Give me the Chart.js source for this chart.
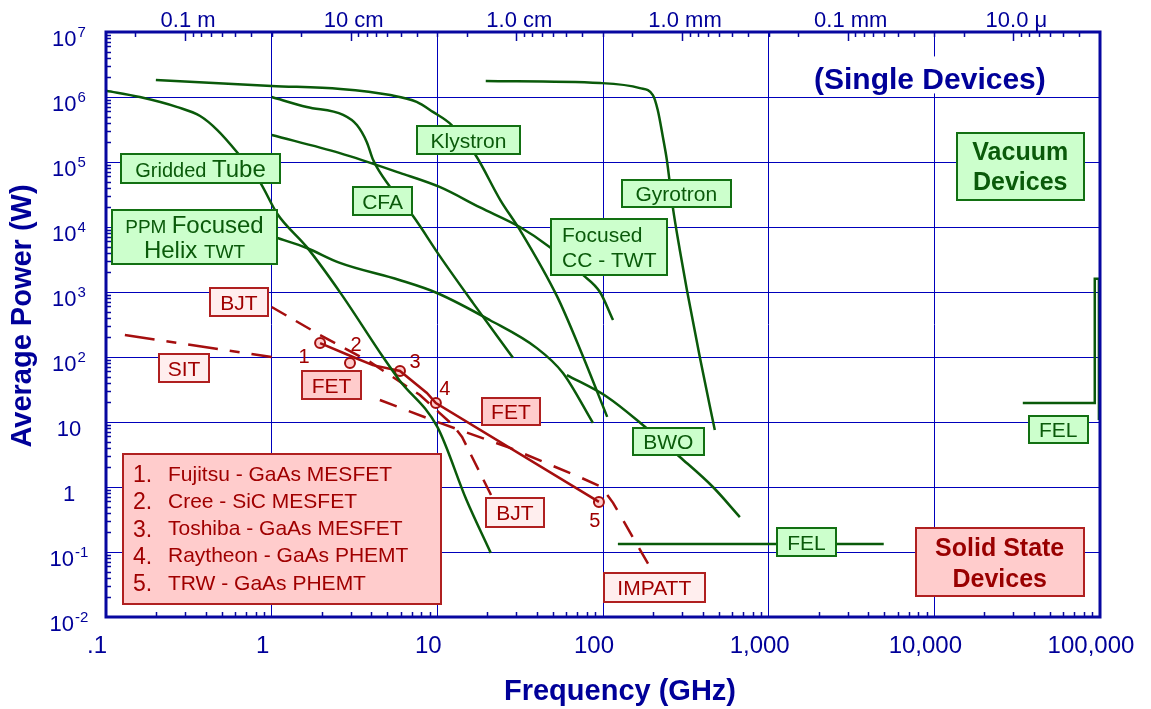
<!DOCTYPE html>
<html>
<head>
<meta charset="utf-8">
<title>Average Power vs Frequency</title>
<script src="https://cdn.jsdelivr.net/npm/chart.js@4.4.1/dist/chart.umd.min.js"></script>
<style>
    html, body { margin: 0; padding: 0; background: #fff; }
    #wrap { width: 1151px; height: 709px; position: relative; }
</style>
</head>
<body>
<div id="wrap"><canvas id="powerChart"></canvas></div>
<script>
// ===== data: [frequency GHz, average power W] =====
const griddedTube = [[0.1, 1.25e6], [0.16, 1.0e6], [0.27, 7.0e5], [0.37, 5.1e5], [0.47, 3.1e5], [0.62, 1.4e5],
    [0.85, 4.9e4], [1.08, 1.6e4], [1.63, 4.9e3], [2.6, 970], [4.7, 100], [5.9, 44], [10, 8.4], [15, 0.63], [21, 0.097]];
const klystron = [[0.2, 1.83e6], [1.0, 1.48e6], [2.6, 1.33e6], [5.2, 1.07e6], [7.5, 8.4e5], [9.4, 5.9e5], [12.2, 3.7e5],
    [17, 1.28e5], [24, 2.6e4], [31.5, 9.0e3], [53, 840], [73, 128], [106, 12]];
const cfa = [[1.0, 1.0e6], [1.63, 7.0e5], [2.7, 5.3e5], [3.27, 3.7e5], [3.76, 2.0e5], [4.1, 1.07e5], [5.2, 4.1e4],
    [7.1, 1.5e4], [10.4, 3.5e3], [16.4, 680], [28.6, 97]];
const ccTwt = [[1.0, 2.6e5], [2.58, 1.37e5], [5.94, 6.8e4], [10.4, 4.1e4], [18.1, 2.0e4], [31.5, 1.0e4], [47.8, 4.9e3],
    [75.7, 1.83e3], [95.8, 1000], [115, 370]];
const ppmTwt = [[1.08, 6.8e3], [1.63, 4.75e3], [2.58, 2.8e3], [5.9, 1530], [9.95, 966], [20.7, 371], [39.9, 137],
    [57.3, 56.8], [86.9, 9.7]];
const gyrotron = [[19.6, 1.76e6], [96, 1.64e6], [167, 1.37e6], [200, 1.07e6], [214, 6.3e5], [230, 2.4e5], [243, 1.07e5],
    [264, 2.0e4], [291, 4.4e3], [321, 1.07e3], [384, 100], [473, 7.5]];
const bwo = [[60.5, 52.8], [106, 24.3], [174, 9.0], [291, 2.9], [461, 1.0], [670, 0.345]];
const felLow = [[123, 0.133], [4950, 0.133]];
const felHigh = [[34200, 19.6], [93000, 19.6], [93000, 1600], [98500, 1600], [98500, 10.7]];

const sit = [[0.13, 218], [1.0, 100]];
const bjt = [[1.0, 588], [1.96, 218], [3.92, 84], [7.85, 26], [12.4, 9.0], [14.1, 5.9], [21.4, 0.70]];
const impatt = [[4.5, 21.8], [10, 10], [27.4, 4.0], [74.6, 1.37], [98, 1.0], [115, 0.57], [200, 0.049]];
const fetLine = [[1.96, 164], [3.1, 100], [4.08, 75], [5.95, 61], [8.65, 28], [9.8, 19.6], [94.5, 0.59]];
const fetDevices = [[1.96, 164], [2.97, 81], [5.95, 61], [9.8, 19.6], [94.5, 0.59]];
const deviceNames = ['Fujitsu - GaAs MESFET', 'Cree - SiC MESFET', 'Toshiba - GaAs MESFET',
    'Raytheon - GaAs PHEMT', 'TRW - GaAs PHEMT'];

// ---- tick labels ----
const freqTicks = [0.1, 1, 10, 100, 1000, 10000, 100000];
const freqLabels = ['.1', '1', '10', '100', '1,000', '10,000', '100,000'];
const powerTicks = [1e-2, 1e-1, 1, 10, 1e2, 1e3, 1e4, 1e5, 1e6, 1e7];
const powerExps = [-2, -1, 0, 1, 2, 3, 4, 5, 6, 7];
const waveFreqs = [0.3, 3, 30, 300, 3000, 30000];
const waveLabels = ['0.1 m', '10 cm', '1.0 cm', '1.0 mm', '0.1 mm', '10.0 \u03bc'];

// ---- styling ----
const FONT = '"Liberation Sans", Arial, Helvetica, sans-serif';
const NAVY = '#000099';
const GRID = '#0000bb';
const FRAME = '#0707a0';
const GREEN = '#0a5a0a';
const RED = '#a50e0e';

const boxStyles = {
    tube:  { fill: '#ccffcc', edge: '#127012', text: '#0a5a0a' },
    solid: { fill: '#ffcccc', edge: '#b02020', text: '#990000' },
    pink:  { fill: '#ffcccc', edge: '#b02020', text: '#a00000' },
    light: { fill: '#ffeeee', edge: '#b02020', text: '#a00000' },
};

// text boxes, anchored at (f, p) centre
const notes = [
    { f: 0.372, p: 7.94e4, w: 159, h: 29, kind: 'tube', lines: [[['Gridded ', 20], ['Tube', 24]]] },
    { f: 0.342, p: 7.0e3, w: 165, h: 54, kind: 'tube', lh: 25, lines: [[['PPM ', 19], ['Focused', 24]], [['Helix ', 24], ['TWT', 19]]] },
    { f: 15.4, p: 2.18e5, w: 103, h: 28, kind: 'tube', lines: [[['Klystron', 21]]] },
    { f: 4.67, p: 2.51e4, w: 59, h: 28, kind: 'tube', lines: [[['CFA', 21]]] },
    { f: 108.6, p: 4.92e3, w: 116, h: 56, kind: 'tube', lh: 25, align: 'left', lines: [[['Focused', 21]], [['CC - TWT', 21]]] },
    { f: 277, p: 3.27e4, w: 109, h: 27, kind: 'tube', lines: [[['Gyrotron', 21]]] },
    { f: 33000, p: 8.53e4, w: 127, h: 67, kind: 'tube', bold: true, lh: 30, lines: [[['Vacuum', 25]], [['Devices', 25]]] },
    { f: 248, p: 5.0, w: 71, h: 27, kind: 'tube', lines: [[['BWO', 21]]] },
    { f: 1690, p: 0.1426, w: 59, h: 28, kind: 'tube', lines: [[['FEL', 21]]] },
    { f: 56000, p: 7.67, w: 59, h: 27, kind: 'tube', lines: [[['FEL', 21]]] },
    { f: 24800, p: 0.070, w: 168, h: 68, kind: 'solid', bold: true, lh: 31, lines: [[['Solid State', 25]], [['Devices', 25]]] },
    { f: 0.635, p: 702, w: 58, h: 28, kind: 'light', lines: [[['BJT', 21]]] },
    { f: 0.296, p: 67.8, w: 50, h: 28, kind: 'light', lines: [[['SIT', 21]]] },
    { f: 2.30, p: 37.1, w: 59, h: 28, kind: 'pink', lines: [[['FET', 21]]] },
    { f: 27.8, p: 14.5, w: 58, h: 27, kind: 'pink', lines: [[['FET', 21]]] },
    { f: 29.4, p: 0.405, w: 58, h: 29, kind: 'light', lines: [[['BJT', 21]]] },
    { f: 204, p: 0.0284, w: 101, h: 29, kind: 'light', lines: [[['IMPATT', 21]]] },
];
const legendBox = { f: 1.154, p: 0.226, w: 318, h: 150 };
const header = { f: 9400, p: 1.93e6, text: '(Single Devices)' };
const pointLabelOffsets = [[-16, 14], [6, -17], [15, -8], [9, -14], [-4, 20]];

// ---- helpers ----
const xy = arr => arr.map(([x, y]) => ({ x, y }));

function greenLine(data, extra) {
    return Object.assign({ data: xy(data), showLine: true, borderColor: GREEN, borderWidth: 2.5,
        pointRadius: 0, fill: false, cubicInterpolationMode: 'monotone' }, extra);
}
function redLine(data, extra) {
    return Object.assign({ data: xy(data), showLine: true, borderColor: RED, borderWidth: 2.5,
        pointRadius: 0, fill: false, tension: 0, borderCapStyle: 'butt' }, extra);
}

function drawNote(ctx, cx, cy, n) {
    const st = boxStyles[n.kind];
    const left = Math.round(cx - n.w / 2), top = Math.round(cy - n.h / 2);
    ctx.fillStyle = st.fill;
    ctx.fillRect(left, top, n.w, n.h);
    ctx.strokeStyle = st.edge;
    ctx.lineWidth = 2;
    ctx.strokeRect(left, top, n.w, n.h);
    const weight = n.bold ? 'bold ' : '';
    const lh = n.lh || 0;
    ctx.textAlign = 'left';
    ctx.textBaseline = 'alphabetic';
    ctx.fillStyle = st.text;
    n.lines.forEach((segs, i) => {
        const ly = cy + (i - (n.lines.length - 1) / 2) * lh;
        const big = Math.max(...segs.map(s => s[1]));
        const base = ly + big * 0.36;
        let total = 0;
        segs.forEach(s => { ctx.font = weight + s[1] + 'px ' + FONT; total += ctx.measureText(s[0]).width; });
        let sx = n.align === 'left' ? left + 11 : cx - total / 2;
        segs.forEach(s => {
            ctx.font = weight + s[1] + 'px ' + FONT;
            ctx.fillText(s[0], sx, base);
            sx += ctx.measureText(s[0]).width;
        });
    });
}

// ---- decorations plugin ----
const decorations = {
    id: 'decorations',
    afterDatasetsDraw(chart) {
        const { ctx, scales: { x, y } } = chart;
        ctx.save();

        notes.forEach(n => drawNote(ctx, x.getPixelForValue(n.f), y.getPixelForValue(n.p), n));

        // numbers beside the FET points
        ctx.font = '20px ' + FONT;
        ctx.fillStyle = '#a00000';
        ctx.textAlign = 'center';
        ctx.textBaseline = 'middle';
        fetDevices.forEach(([f, p], i) => {
            const [dx, dy] = pointLabelOffsets[i];
            ctx.fillText(String(i + 1), x.getPixelForValue(f) + dx, y.getPixelForValue(p) + dy);
        });

        // device list
        const lx = Math.round(x.getPixelForValue(legendBox.f) - legendBox.w / 2);
        const ly = Math.round(y.getPixelForValue(legendBox.p) - legendBox.h / 2);
        ctx.fillStyle = '#ffcccc';
        ctx.fillRect(lx, ly, legendBox.w, legendBox.h);
        ctx.strokeStyle = '#b02020';
        ctx.lineWidth = 2;
        ctx.strokeRect(lx, ly, legendBox.w, legendBox.h);
        ctx.textAlign = 'left';
        ctx.textBaseline = 'alphabetic';
        ctx.fillStyle = '#a00000';
        deviceNames.forEach((name, i) => {
            const cyl = ly + 19 + i * 27.25;
            ctx.font = '23px ' + FONT;
            ctx.fillText((i + 1) + '.', lx + 10, cyl + 9);
            ctx.font = '21px ' + FONT;
            ctx.fillText(name, lx + 45, cyl + 7.5);
        });

        // header with white backing
        const hx = x.getPixelForValue(header.f), hy = y.getPixelForValue(header.p);
        ctx.font = 'bold 30px ' + FONT;
        const hw = ctx.measureText(header.text).width;
        ctx.fillStyle = '#fff';
        ctx.fillRect(hx - hw / 2 - 3, hy - 22, hw + 6, 37);
        ctx.fillStyle = NAVY;
        ctx.textAlign = 'center';
        ctx.fillText(header.text, hx, hy + 11);

        ctx.restore();
    },
    afterDraw(chart) {
        const { ctx, chartArea: a, scales: { x, y } } = chart;
        ctx.save();

        // frame
        ctx.strokeStyle = FRAME;
        ctx.lineWidth = 3;
        ctx.strokeRect(a.left, a.top, a.right - a.left, a.bottom - a.top);

        // minor ticks, pointing inward
        ctx.lineWidth = 1.5;
        for (let n = -1; n < 5; n++) {
            for (let k = 2; k < 10; k++) {
                const px = Math.round(x.getPixelForValue(k * Math.pow(10, n))) + 0.5;
                ctx.beginPath(); ctx.moveTo(px, a.bottom); ctx.lineTo(px, a.bottom - 5); ctx.stroke();
            }
        }
        for (let n = -2; n < 7; n++) {
            for (let k = 2; k < 10; k++) {
                const py = Math.round(y.getPixelForValue(k * Math.pow(10, n))) + 0.5;
                ctx.beginPath(); ctx.moveTo(a.left, py); ctx.lineTo(a.left + 5, py); ctx.stroke();
            }
        }
        // wavelength ticks along the top
        [0.03].concat(waveFreqs).forEach(f0 => {
            if (f0 >= 0.1) {
                const px = Math.round(x.getPixelForValue(f0)) + 0.5;
                ctx.beginPath(); ctx.moveTo(px, a.top); ctx.lineTo(px, a.top + 9); ctx.stroke();
            }
            for (let k = 2; k < 10; k++) {
                const f = f0 * 10 / k;
                if (f <= 0.1 || f >= 1e5) continue;
                const px = Math.round(x.getPixelForValue(f)) + 0.5;
                ctx.beginPath(); ctx.moveTo(px, a.top); ctx.lineTo(px, a.top + 5); ctx.stroke();
            }
        });

        ctx.fillStyle = NAVY;
        ctx.textBaseline = 'alphabetic';

        // top labels
        ctx.font = '22px ' + FONT;
        ctx.textAlign = 'center';
        waveFreqs.forEach((f, i) => ctx.fillText(waveLabels[i], x.getPixelForValue(f) + 3, 27));

        // bottom labels
        ctx.font = '24px ' + FONT;
        freqTicks.forEach((f, i) => {
            const w = ctx.measureText(freqLabels[i]).width;
            const cx = Math.min(x.getPixelForValue(f) - 9, chart.width - 10 - w / 2);
            ctx.fillText(freqLabels[i], cx, 653);
        });

        // left labels: 10 with superscript exponent
        ctx.textAlign = 'left';
        powerTicks.forEach((v, i) => {
            const py = y.getPixelForValue(v);
            const e = powerExps[i];
            const main = e === 0 ? '1' : '10';
            const sup = (e === 0 || e === 1) ? '' : String(e);
            ctx.font = '22px ' + FONT;
            const w1 = ctx.measureText(main).width;
            ctx.font = '15px ' + FONT;
            const w2 = sup ? ctx.measureText(sup).width + 1 : 0;
            const sx = 69 - (w1 + w2) / 2;
            ctx.font = '22px ' + FONT;
            ctx.fillText(main, sx, py + 14);
            if (sup) {
                ctx.font = '15px ' + FONT;
                ctx.fillText(sup, sx + w1 + 1, py + 5);
            }
        });

        // axis titles
        ctx.font = 'bold 29px ' + FONT;
        ctx.textAlign = 'center';
        ctx.fillText('Frequency (GHz)', 620, 700);
        ctx.translate(31, 316);
        ctx.rotate(-Math.PI / 2);
        ctx.fillText('Average Power (W)', 0, 0);

        ctx.restore();
    }
};

// ---- chart ----
function initPowerChart() {
    const el = document.getElementById('powerChart');
    new Chart(el, {
        type: 'scatter',
        data: {
            datasets: [
                greenLine(griddedTube), greenLine(klystron), greenLine(cfa), greenLine(ccTwt),
                greenLine(ppmTwt), greenLine(gyrotron), greenLine(bwo),
                greenLine(felLow, { cubicInterpolationMode: 'default', tension: 0 }),
                greenLine(felHigh, { cubicInterpolationMode: 'default', tension: 0 }),
                redLine(sit, { borderDash: [30, 12, 10, 12] }),
                redLine(bjt, { borderDash: [17, 11] }),
                redLine(impatt, { borderDash: [18, 13] }),
                redLine(fetLine),
                { data: xy(fetDevices), showLine: false, pointRadius: 5, pointHoverRadius: 5,
                  pointBackgroundColor: '#ffcccc', pointBorderColor: RED, pointBorderWidth: 2 },
            ]
        },
        options: {
            responsive: true,
            maintainAspectRatio: false,
            animation: false,
            events: [],
            layout: { padding: { left: 106, right: 51, top: 32, bottom: 92 } },
            plugins: { legend: { display: false }, tooltip: { enabled: false } },
            scales: {
                x: {
                    type: 'logarithmic', min: 0.1, max: 1e5,
                    ticks: { display: false },
                    grid: { color: GRID, lineWidth: 1, drawTicks: false },
                    border: { display: false },
                    afterBuildTicks: s => { s.ticks = freqTicks.map(v => ({ value: v })); }
                },
                y: {
                    type: 'logarithmic', min: 1e-2, max: 1e7,
                    ticks: { display: false },
                    grid: { color: GRID, lineWidth: 1, drawTicks: false },
                    border: { display: false },
                    afterBuildTicks: s => { s.ticks = powerTicks.map(v => ({ value: v })); }
                }
            }
        },
        plugins: [decorations]
    });
}

initPowerChart();
</script>
</body>
</html>
